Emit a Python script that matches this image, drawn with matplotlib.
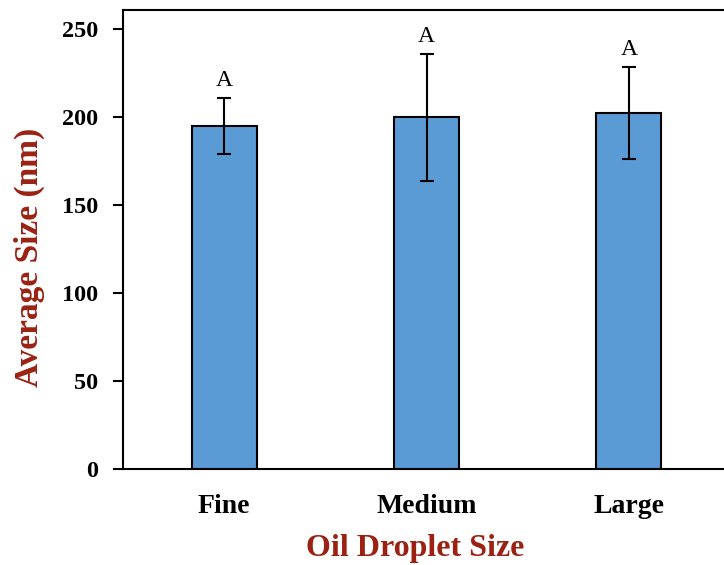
import matplotlib.pyplot as plt

# droplet size groups and measured particle size (nm)
categories = ['Fine', 'Medium', 'Large']
avg_size = [195, 200, 202.5]
std_err = [16, 36, 26]
letters = ['A', 'A', 'A']

plt.rcParams['font.family'] = ['Liberation Serif', 'DejaVu Serif']

fig = plt.figure(figsize=(7.24, 5.65), dpi=100)
# axes run a bit past the right edge of the figure
ax = fig.add_axes([0.1699, 0.1699, 1.0083 - 0.1699, 0.9823 - 0.1699])

x = range(len(categories))
ax.bar(x, avg_size, width=0.32, color='#5B9BD5', edgecolor='black',
       linewidth=1.5, zorder=2)
ax.errorbar(x, avg_size, yerr=std_err, fmt='none', ecolor='black',
            elinewidth=1.5, capsize=5, capthick=1.5, zorder=3)

for xi, v, e, t in zip(x, avg_size, std_err, letters):
    ax.text(xi, v + e + 4, t, ha='center', va='bottom', fontsize=17)

ax.set_xlim(-0.5, 2.5)
ax.set_ylim(0, 261)
ax.set_yticks([0, 50, 100, 150, 200, 250])
ax.set_xticks(list(x))
ax.set_xticklabels(categories)

for s in ax.spines.values():
    s.set_linewidth(1.5)

ax.tick_params(axis='y', direction='out', length=7, width=1.5, pad=11)
ax.tick_params(axis='x', length=0, pad=18)
for lab in ax.get_yticklabels():
    lab.set_fontweight('bold')
    lab.set_fontsize(17.5)
for lab in ax.get_xticklabels():
    lab.set_fontweight('bold')
    lab.set_fontsize(20)

ax.set_xlabel('Oil Droplet Size', fontsize=23, fontweight='bold',
              color='#9B2213')
ax.set_ylabel('Average Size (nm)', fontsize=24, fontweight='bold',
              color='#9B2213')
ax.xaxis.set_label_coords(0.481, -0.141)
ax.yaxis.set_label_coords(-0.128, 0.46)

fig.savefig('out.png', dpi=100)
